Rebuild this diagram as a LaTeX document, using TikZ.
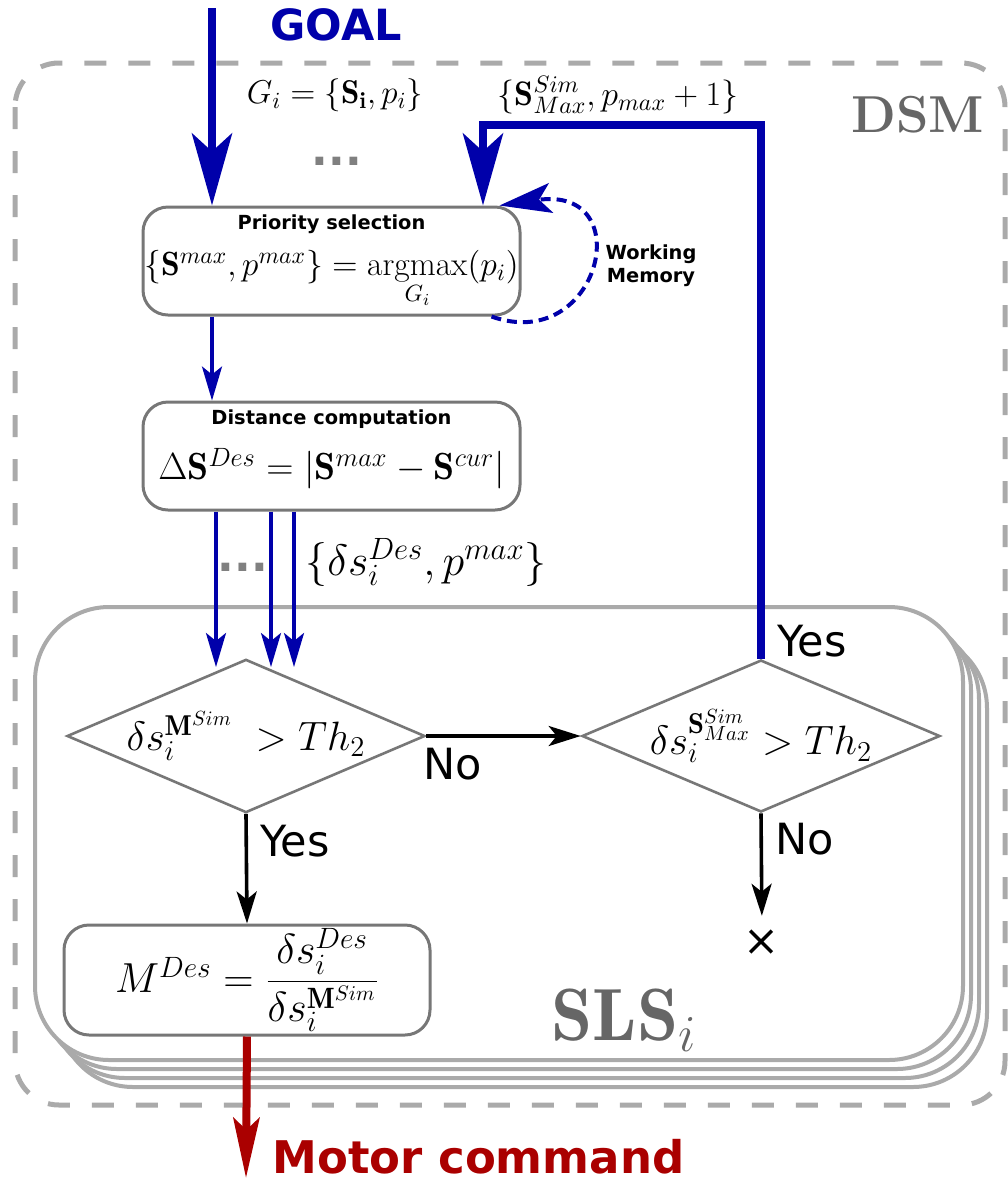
\RequirePackage{fix-cm}
\documentclass[tikz,border=0pt]{standalone}
\usepackage{fontspec}
\newfontfamily\djv{DejaVu Sans}
\usetikzlibrary{arrows.meta,positioning,shapes.geometric}
\definecolor{dsblue}{HTML}{0000AA}
\definecolor{dsred}{HTML}{AA0000}
\definecolor{boxgray}{HTML}{777777}
\definecolor{framegray}{HTML}{AAAAAA}
\definecolor{labelgray}{HTML}{666666}

\begin{document}
\begin{tikzpicture}[x=0.5pt,y=-0.5pt,
    box/.style={draw=boxgray,line width=1.5pt,fill=white,rounded corners=12.5pt,
      minimum width=188.5pt,minimum height=54pt,align=center,inner sep=0pt,
      font=\fontsize{18.5}{22}\selectfont},
    dec/.style={diamond,draw=boxgray,line width=1.3pt,fill=white,aspect=2.3,
      minimum width=179pt,minimum height=76pt,inner sep=0pt,
      font=\fontsize{20.5}{24}\selectfont},
    sls/.style={draw=framegray,line width=2pt,fill=white,rounded corners=37pt,
      minimum width=464pt,minimum height=226.5pt},
    title/.style={font=\djv\bfseries\fontsize{9.7}{11.5}\selectfont},
    answer/.style={font=\djv\fontsize{21.5}{24}\selectfont,inner sep=0pt,text=black},
    dots/.style={text=gray,font=\djv\bfseries\fontsize{22}{22}\selectfont,inner sep=0pt},
    big/.style={-{Stealth[length=36pt,width=20pt,inset=9pt]},line width=4pt},
    feed/.style={-{Stealth[length=17pt,width=10pt,inset=4pt]},line width=1.6pt,dsblue},
    flow/.style={-{Stealth[length=16pt,width=10pt,inset=4pt]},line width=1.8pt,black}]
  \useasboundingbox (0,0) rectangle (1008,1180);
  % DSM frame
  \draw[framegray,line width=2.5pt,dash pattern=on 11pt off 11pt,rounded corners=22pt]
    (15,63) rectangle (1005,1105);
  % stack of SLS frames
  \foreach \k in {3,2,1}
    \node[sls] at (499+8*\k,833.5+9*\k) {};
  \node[sls] (sls) at (499,833.5) {};

  \node[box] (pri) at (331.5,261)
    {{\djv\bfseries\fontsize{9.7}{11.5}\selectfont Priority selection}\\[1pt]
     {\fontsize{16.8}{19}\selectfont $\{\mathbf{S}^{max},p^{max}\}=\mathop{\mathrm{argmax}}\limits_{G_i}(p_i)$}};
  \node[box] (dist) at (331.5,456)
    {{\djv\bfseries\fontsize{9.7}{11.5}\selectfont Distance computation}\\[5.5pt]
     {\fontsize{18.9}{22}\selectfont $\Delta\mathbf{S}^{Des}=|\mathbf{S}^{max}-\mathbf{S}^{cur}|$\rule[-11pt]{0pt}{1pt}}};
  \node[dec] (d1) at (246,736) {$\delta s_i^{\mathbf{M}^{Sim}}\;>Th_2$};
  \node[dec] (d2) at (761,736) {$\delta s_i^{\mathbf{S}^{Sim}_{Max}}>Th_2$};
  \node[box,minimum width=183pt,minimum height=55pt,font=\fontsize{21}{24}\selectfont] (mdes) at (247,980)
    {$M^{Des}=\displaystyle\frac{\delta s_i^{Des}}{\delta s_i^{\mathbf{M}^{Sim}}}$};
  \node[answer] (stop) at (762,943) {×};

  \node[font=\djv\bfseries\fontsize{21.5}{24}\selectfont,text=dsblue] (goal) at (336,25) {GOAL};
  \node[font=\fontsize{16.5}{19}\selectfont] (gi) at (335,95) {$G_i=\{\mathbf{S_i},p_i\}$};
  \node[font=\fontsize{17}{20}\selectfont] (back) at (618,95) {$\{\mathbf{S}^{Sim}_{Max},p_{max}+1\}$};
  \node[dots] (dtop) at (337,161) {...};
  \node[dots] (dmid) at (243,567) {...};
  \node[font=\fontsize{22}{26}\selectfont] (dsl) at (426,562) {$\{\delta s_i^{Des},p^{max}\}$};
  \node[title,align=center] (wm) at (651,266) {Working\\Memory};
  \node[text=labelgray,font=\bfseries\fontsize{26}{30}\selectfont] (dsm) at (918,115) {DSM};
  \node[text=labelgray,font=\fontsize{37}{42}\selectfont] (slsi) at (624,1020) {$\mathbf{SLS}_i$};
  \node[font=\djv\bfseries\fontsize{22.5}{26}\selectfont,text=dsred,anchor=west,inner sep=0pt] (motor) at (272,1157) {Motor command};

  \coordinate (goaltop) at (212,8);
  \coordinate (loopy) at (483,125);
  \coordinate (motorend) at (246,1178);

  \draw[big,dsblue] (goaltop) -- (goaltop |- pri.north);
  \draw[feed] (goaltop |- pri.south) -- (goaltop |- dist.north);
  \foreach \n/\x in {a/216,b/271,c/294} {
    \coordinate (in\n) at (\x,667);
    \draw[feed] (dist.south -| in\n) -- (in\n);
  }
  \draw[dsblue,line width=2pt,dash pattern=on 5pt off 3pt,-{Stealth[length=26pt,width=15pt,inset=6pt]}]
    ([xshift=-15pt]pri.south east) .. controls (600,355) and (640,185) .. ([xshift=-11pt]pri.north east);
  \draw[flow] (d1.east) -- node[answer,anchor=north west,pos=0,xshift=-2.5pt,yshift=-5pt] {No} (d2.west);
  \draw[flow] (d1.south) -- node[answer,anchor=west,pos=0.25,xshift=6pt] {Yes} (mdes.north);
  \draw[flow,shorten >=7pt] (d2.south) -- node[answer,anchor=west,pos=0.22,xshift=6pt] {No} (stop.north);
  \draw[big,dsblue] (d2.north) node[answer,anchor=south west,xshift=6pt,yshift=-1pt] {Yes}
    -- (d2.north |- loopy) -- (loopy) -- (loopy |- pri.north);
  \draw[-{Stealth[length=30pt,width=13pt,inset=6pt]},line width=4pt,dsred] (mdes.south) -- (motorend);
\end{tikzpicture}
\end{document}
